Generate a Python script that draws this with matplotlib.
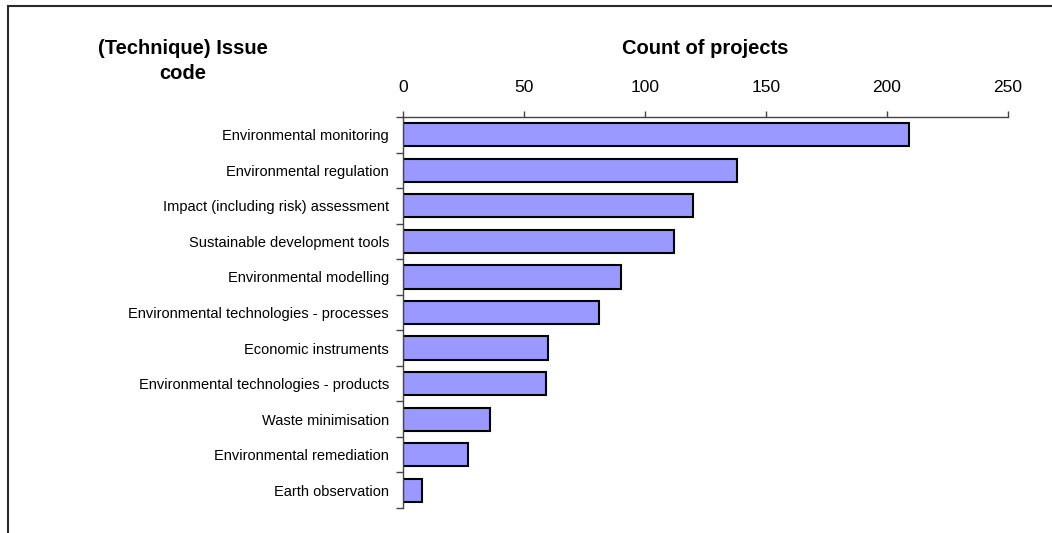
import matplotlib
matplotlib.use("Agg")
import matplotlib.pyplot as plt
from matplotlib.patches import Rectangle
import numpy as np

plt.rcParams['font.family'] = ['Liberation Sans', 'DejaVu Sans']

issues = ["Environmental monitoring", "Environmental regulation",
          "Impact (including risk) assessment", "Sustainable development tools",
          "Environmental modelling", "Environmental technologies - processes",
          "Economic instruments", "Environmental technologies - products",
          "Waste minimisation", "Environmental remediation", "Earth observation"]
counts = [209, 138, 120, 112, 90, 81, 60, 59, 36, 27, 8]
xticks = [0, 50, 100, 150, 200, 250]

fig = plt.figure(figsize=(10.52, 5.33), dpi=100)

# outer chart frame (only top and left edges fall inside the image)
fig.patches.append(Rectangle((8/1052, -0.2), 1.2, 1.2 - 6/533,
                             transform=fig.transFigure, fill=False,
                             edgecolor="#2a2a2a", lw=1.5))

ax = fig.add_axes([403/1052, 1 - 508/533, 605/1052, 391/533])
y = np.arange(len(issues))
ax.barh(y, counts, height=0.65, color="#9999ff", edgecolor="black", lw=1.5)

ax.set_xlim(0, 250)
ax.set_ylim(len(issues) - 0.5, -0.5)

ax.xaxis.tick_top()
ax.set_xticks(xticks)
ax.tick_params(axis="x", direction="out", length=4, width=1, color="#444444",
               labelsize=12.5, pad=12)

ax.set_yticks(y)
ax.set_yticklabels(issues, fontsize=10.5)
ax.set_yticks(np.arange(len(issues) + 1) - 0.5, minor=True)
ax.tick_params(axis="y", which="major", length=0, pad=10)
ax.tick_params(axis="y", which="minor", direction="out", length=5, width=1,
               color="#444444")

for s in ["right", "bottom"]:
    ax.spines[s].set_visible(False)
for s in ["top", "left"]:
    ax.spines[s].set_color("#444444")
    ax.spines[s].set_linewidth(1)

ax.text(0.5, (508 - 49) / 391, "Count of projects", transform=ax.transAxes,
        ha="center", va="center", fontsize=14.5, fontweight="bold")
fig.text(183/1052, 1 - 61/533, "(Technique) Issue\ncode", ha="center",
         va="center", fontsize=14.5, fontweight="bold", linespacing=1.35)

fig.savefig("out.png", dpi=100)
